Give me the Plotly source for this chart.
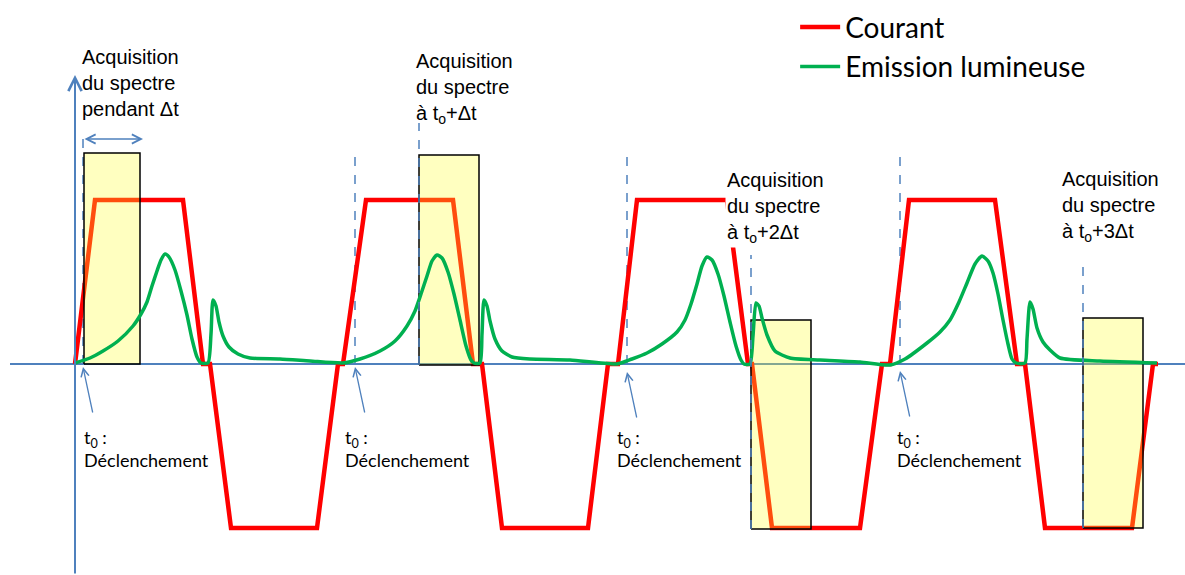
import plotly.graph_objects as go

# ---------------- data (time in arbitrary units, amplitude in arbitrary units) -------------
current_t = [75, 95, 183, 203, 210, 231, 317, 338, 343, 366, 453, 473, 482, 502, 588, 608,
             618, 637, 727, 748, 752, 772, 860, 882, 890, 909, 995, 1017, 1025, 1045, 1132,
             1153, 1158]
current_i = [0, 164, 164, 0, 0, -164, -164, 0, 0, 164, 164, 0, 0, -164, -164, 0,
             0, 164, 164, 0, 0, -164, -164, 0, 0, 164, 164, 0, 0, -164, -164,
             0, 0]

emission_t = [75, 90, 103, 118, 133, 141, 147, 152, 157, 161, 165, 169, 175, 181, 187, 192, 197,
              201, 208, 211, 213, 216, 219, 223, 229, 238, 250, 280, 310, 343,
              360, 380, 395, 407, 415, 421, 427, 432, 437, 442, 448, 454, 460, 466, 471,
              474, 480, 482, 484, 487, 490, 495, 502, 512, 530, 570, 617,
              632, 647, 662, 677, 685, 691, 697, 702, 707, 712, 718, 724, 730, 736, 741,
              744, 750, 753, 756, 759, 762, 767, 775, 790, 820, 860, 890,
              905, 927, 940, 950, 959, 967, 975, 982, 988, 993, 998, 1003, 1008, 1012,
              1016, 1025, 1027, 1030, 1033, 1037, 1043, 1050, 1060, 1100, 1157]
emission_v = [1, 6, 13, 23, 38, 50, 62, 78, 93, 104, 110, 107, 94, 73, 49, 25, 7,
              1, 1, 30, 64, 58, 42, 28, 17, 10, 6, 5, 3, 1,
              5, 13, 23, 38, 53, 70, 88, 103, 109, 106, 92, 70, 44, 18, 4,
              1, 1, 30, 64, 58, 43, 25, 13, 7, 5, 4, 0,
              5, 11, 20, 32, 44, 60, 80, 98, 107, 104, 90, 68, 42, 18, 4,
              0, 0, 28, 61, 58, 46, 29, 13, 6, 4, 2, -1,
              5, 21, 32, 44, 62, 81, 100, 108, 103, 91, 70, 44, 20, 5,
              1, 1, 25, 62, 55, 36, 22, 14, 6, 3, 1]

# trigger instants t0 of each cycle
trigger_t = [83, 355, 627, 900]
# acquisition windows of the spectrum (start, end, lower / upper bound)
acq_start = [84, 419, 751, 1083]
acq_end = [140, 479, 811, 1143]
acq_low = [0, -1, -165, -164]
acq_high = [211, 209, 44, 46]

acq_labels = ["Acquisition<br>du spectre<br>pendant \u0394t",
              "Acquisition<br>du spectre<br>\u00e0 t<sub>o</sub>+\u0394t",
              "Acquisition<br>du spectre<br>\u00e0 t<sub>o</sub>+2\u0394t",
              "Acquisition<br>du spectre<br>\u00e0 t<sub>o</sub>+3\u0394t"]
trigger_label = "t<sub>0</sub> :<br>D\u00e9clenchement"

# ---------------- styles ----------------
BLUE = "#4F81BD"
RED = "#FF0000"
GREEN = "#00B050"

fig = go.Figure()

fig.add_trace(go.Scatter(x=current_t, y=current_i, mode="lines", name="Courant",
                         line=dict(color=RED, width=4.5)))

# acquisition windows (semi-transparent yellow rectangles, drawn above the current)
for s, e, lo, hi in zip(acq_start, acq_end, acq_low, acq_high):
    fig.add_trace(go.Scatter(x=[s, e, e, s, s], y=[lo, lo, hi, hi, lo], mode="lines",
                             fill="toself", fillcolor="rgba(255,255,45,0.30)",
                             line=dict(color="black", width=1.5),
                             showlegend=False, hoverinfo="skip"))

fig.add_trace(go.Scatter(x=emission_t, y=emission_v, mode="lines", name="Emission lumineuse",
                         line=dict(color=GREEN, width=3.5, shape="spline", smoothing=0.6)))

shapes = []
# horizontal baseline
shapes.append(dict(type="line", xref="x", yref="y", x0=10, x1=1185, y0=0, y1=0,
                   line=dict(color=BLUE, width=2), layer="below"))
# dashed trigger lines
trig_top = [234, 211, 211, 211]
for t, top in zip(trigger_t, trig_top):
    shapes.append(dict(type="line", xref="x", yref="y", x0=t, x1=t, y0=0, y1=top,
                       line=dict(color=BLUE, width=1.5, dash="dash"), layer="below"))
# dashed lines marking the delayed acquisition start
acq_dash_top = [241, 109, 106]
for s, lo, top in zip(acq_start[1:], acq_low[1:], acq_dash_top):
    shapes.append(dict(type="line", xref="x", yref="y", x0=s, x1=s, y0=lo, y1=top,
                       line=dict(color=BLUE, width=1.5, dash="dash"), layer="above"))

annotations = []
# vertical axis with arrow
annotations.append(dict(x=75, y=289, ax=75, ay=-211, xref="x", yref="y", axref="x", ayref="y",
                        text="", showarrow=True, arrowhead=5, arrowsize=1.3, arrowwidth=2,
                        arrowcolor=BLUE))
# double arrow showing Δt
annotations.append(dict(x=143, y=225, ax=83, ay=225, xref="x", yref="y", axref="x", ayref="y",
                        text="", showarrow=True, arrowhead=5, startarrowhead=5,
                        arrowside="end+start", arrowsize=1.2, startarrowsize=1.2,
                        arrowwidth=1.5, arrowcolor=BLUE))
# trigger arrows + labels
tip_dy = [-3, -3, -8, -7]
label_x = [82, 343, 615, 895]
for t, dy, lx in zip(trigger_t, tip_dy, label_x):
    annotations.append(dict(x=t, y=dy, ax=t + 10, ay=dy - 47, xref="x", yref="y",
                            axref="x", ayref="y", text="", showarrow=True, arrowhead=5,
                            arrowsize=1.2, arrowwidth=1.3, arrowcolor=BLUE))
    annotations.append(dict(x=lx, y=-60, xref="x", yref="y", text=trigger_label,
                            showarrow=False, xanchor="left", yanchor="top", align="left",
                            font=dict(family="Lato", size=18, color="black")))
# acquisition labels
acq_label_pos = [(80, 320), (414, 316), (725, 197), (1060, 198)]
for i, (lab, (lx, ly)) in enumerate(zip(acq_labels, acq_label_pos)):
    annotations.append(dict(x=lx, y=ly, xref="x", yref="y", text=lab, showarrow=False,
                            xanchor="left", yanchor="top", align="left",
                            bgcolor="white" if i == 2 else "rgba(0,0,0,0)",
                            font=dict(family="Liberation Sans", size=20, color="black")))

fig.update_layout(
    width=1185, height=575,
    margin=dict(l=0, r=0, t=0, b=0),
    paper_bgcolor="white", plot_bgcolor="white",
    xaxis=dict(range=[0, 1185], visible=False, fixedrange=True),
    yaxis=dict(range=[-211, 364], visible=False, fixedrange=True),
    showlegend=True,
    legend=dict(x=0.671, y=0.996, xanchor="left", yanchor="top",
                bgcolor="rgba(0,0,0,0)", font=dict(family="Lato", size=28, color="black"),
                itemwidth=40, tracegroupgap=0),
    shapes=shapes,
    annotations=annotations,
)

fig.write_html("out.html", config={"displayModeBar": False},
               post_script="document.body.style.margin='0';document.body.style.overflow='hidden';")
